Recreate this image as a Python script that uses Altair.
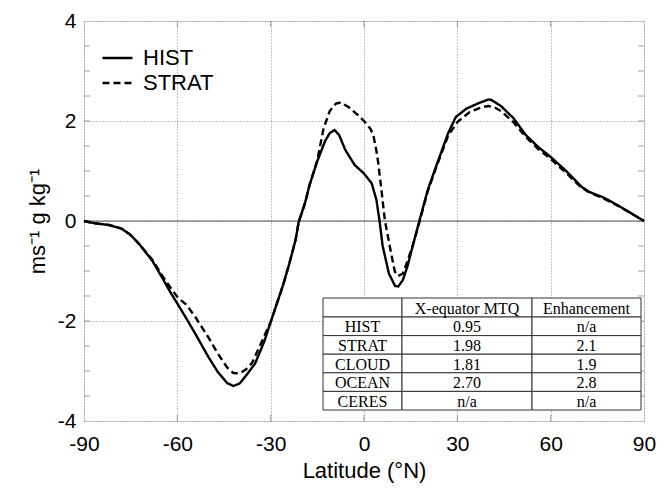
import altair as alt
import pandas as pd

# ---------------- data ----------------
hist_lat = [-90, -87, -82, -78, -75, -72, -68, -65, -62, -60, -57, -54, -50, -47, -44, -42, -40, -38, -35,
            -32, -30, -28, -26, -24, -22, -21, -19, -17.5, -15, -12.5, -11, -9.5, -8, -6, -3, 0, 2.5, 4, 5,
            6, 8, 10, 11, 12.5, 14, 16, 18, 20.5, 23.5, 27, 29.5, 33, 37, 40, 41, 44, 48, 52, 56, 60, 65, 70,
            72.5, 77, 82, 86, 90]
hist_val = [0, -0.04, -0.08, -0.15, -0.28, -0.48, -0.80, -1.12, -1.45, -1.65, -1.96, -2.28, -2.72, -3.02,
            -3.24, -3.30, -3.25, -3.10, -2.85, -2.40, -2.02, -1.65, -1.28, -0.85, -0.38, -0.02, 0.35, 0.72,
            1.20, 1.60, 1.76, 1.82, 1.72, 1.42, 1.12, 0.95, 0.75, 0.42, 0.0, -0.50, -1.05, -1.30, -1.31,
            -1.18, -0.90, -0.42, 0.05, 0.62, 1.15, 1.75, 2.08, 2.25, 2.36, 2.43, 2.42, 2.30, 2.06, 1.72,
            1.48, 1.28, 1.00, 0.68, 0.58, 0.47, 0.30, 0.15, 0.0]

strat_lat = [-90, -87, -82, -78, -75, -72, -68, -65, -62, -60, -57, -54, -50, -47, -44, -42, -40, -38, -36,
             -33.5, -30, -28, -26, -24, -22, -21, -19, -17.5, -15, -13, -11, -9, -7.5, -5, -2, 0, 2, 3, 4,
             4.6, 5.6, 6.7, 8.3, 9.9, 11, 12.5, 14, 16, 18, 20.5, 23.5, 27, 30, 34, 38, 40, 42, 44, 48, 52,
             56, 60, 65, 70, 72.5, 77, 82, 86, 90]
strat_val = [0, -0.04, -0.08, -0.15, -0.28, -0.48, -0.78, -1.08, -1.35, -1.52, -1.68, -1.94, -2.33, -2.65,
             -2.93, -3.04, -3.05, -2.97, -2.84, -2.50, -2.02, -1.65, -1.28, -0.85, -0.38, -0.02, 0.35, 0.72,
             1.22, 1.85, 2.20, 2.35, 2.37, 2.28, 2.12, 2.00, 1.85, 1.72, 1.40, 1.15, 0.62, 0.02, -0.51,
             -1.01, -1.10, -1.05, -0.80, -0.42, 0.02, 0.60, 1.12, 1.70, 1.98, 2.18, 2.28, 2.30, 2.27, 2.20,
             1.98, 1.68, 1.44, 1.24, 0.96, 0.66, 0.57, 0.45, 0.29, 0.15, 0.0]

series_names = ["HIST", "STRAT"]

x_ticks = [-90, -60, -30, 0, 30, 60, 90]
x_inner_ticks = [-60, -30, 0, 30, 60]
y_ticks = [-4, -2, 0, 2, 4]
y_minor_ticks = [-3.5, -3, -2.5, -2, -1.5, -1, -0.5, 0, 0.5, 1, 1.5, 2, 2.5, 3, 3.5]

table_header = ["", "X-equator MTQ", "Enhancement"]
table_rows = ["HIST", "STRAT", "CLOUD", "OCEAN", "CERES"]
table_mtq = ["0.95", "1.98", "1.81", "2.70", "n/a"]
table_enh = ["n/a", "2.1", "1.9", "2.8", "n/a"]

# ---------------- layout (styles) ----------------
W, H = 560, 400
col_edges = [0, 79, 209, 318]          # table column edges, table units (px)
row_edges = [0, 19, 37.6, 56.2, 74.8, 93.4, 112]
TABLE_X_RANGE = [239, 557]
TABLE_Y_RANGE = [277, 389]
SANS = "Liberation Sans"
SERIF = "Liberation Serif"

# ---------------- frames ----------------
lines_df = pd.concat([
    pd.DataFrame({"lat": hist_lat, "val": hist_val, "series": "HIST"}),
    pd.DataFrame({"lat": strat_lat, "val": strat_val, "series": "STRAT"}),
])

cells = []
all_rows = [table_header] + [[r, m, e] for r, m, e in zip(table_rows, table_mtq, table_enh)]
for ri, row in enumerate(all_rows):
    for ci, txt in enumerate(row):
        cells.append({
            "x": col_edges[ci], "x2": col_edges[ci + 1],
            "y": row_edges[ri], "y2": row_edges[ri + 1],
            "xc": (col_edges[ci] + col_edges[ci + 1]) / 2,
            "yc": (row_edges[ri] + row_edges[ri + 1]) / 2,
            "text": txt,
        })
cells_df = pd.DataFrame(cells)

xscale = alt.Scale(domain=[-90, 90], nice=False, zero=False)
yscale = alt.Scale(domain=[-4, 4], nice=False, zero=False)

lines = alt.Chart(lines_df).mark_line(color="black", strokeWidth=2.4).encode(
    x=alt.X("lat:Q", scale=xscale,
            axis=alt.Axis(values=x_ticks, title="Latitude (°N)", labelFontSize=21, titleFontSize=22,
                          labelFont=SANS, titleFont=SANS, labelColor="black", titleColor="black",
                          titleFontWeight="normal", labelPadding=12, titlePadding=6, ticks=False,
                          domain=False, labelFlush=False, grid=True, gridDash=[1, 2],
                          gridColor="#888", gridWidth=1, labelExpr="toString(datum.value)")),
    y=alt.Y("val:Q", scale=yscale,
            axis=alt.Axis(values=y_ticks, title="ms⁻¹ g kg⁻¹", labelFontSize=21, titleFontSize=22,
                          labelFont=SANS, titleFont=SANS, labelColor="black", titleColor="black",
                          titleFontWeight="normal", labelPadding=8, titlePadding=8, ticks=False,
                          domain=False, labelFlush=False, grid=True, gridDash=[1, 2],
                          gridColor="#888", gridWidth=1, labelExpr="toString(datum.value)")),
    strokeDash=alt.StrokeDash("series:N", scale=alt.Scale(domain=series_names, range=[[1, 0], [7, 4]]),
                              legend=alt.Legend(title=None, orient="none", legendX=17, legendY=25,
                                                symbolType="stroke", symbolSize=900,
                                                symbolStrokeWidth=2.4, symbolStrokeColor="black",
                                                labelFontSize=22, labelFont=SANS, labelColor="black",
                                                labelOffset=9, clipHeight=24, rowPadding=1, padding=0)),
    order="lat:Q",
)

zero_df = pd.DataFrame({"val": [0]})
zero = alt.Chart(zero_df).mark_rule(color="#555", strokeWidth=1).encode(y=alt.Y("val:Q", scale=yscale))

yt_df = pd.DataFrame({"val": y_minor_ticks})
ytick_l = alt.Chart(yt_df).mark_tick(color="#777", thickness=1, size=6).encode(
    y=alt.Y("val:Q", scale=yscale), x=alt.value(3))
ytick_r = alt.Chart(yt_df).mark_tick(color="#777", thickness=1, size=6).encode(
    y=alt.Y("val:Q", scale=yscale), x=alt.value(W - 3))
xt_df = pd.DataFrame({"lat": x_inner_ticks})
xtick_b = alt.Chart(xt_df).mark_tick(color="#777", thickness=1, size=6).encode(
    x=alt.X("lat:Q", scale=xscale), y=alt.value(H - 3))
xtick_t = alt.Chart(xt_df).mark_tick(color="#777", thickness=1, size=6).encode(
    x=alt.X("lat:Q", scale=xscale), y=alt.value(3))

main = alt.layer(zero, ytick_l, ytick_r, xtick_b, xtick_t, lines)

tx = alt.Scale(domain=[0, 318], range=TABLE_X_RANGE, nice=False, zero=False)
ty = alt.Scale(domain=[0, 112], range=TABLE_Y_RANGE, nice=False, zero=False)
rects = alt.Chart(cells_df).mark_rect(fill="white", stroke="#333", strokeWidth=1).encode(
    x=alt.X("x:Q", scale=tx, axis=None), x2="x2:Q",
    y=alt.Y("y:Q", scale=ty, axis=None), y2="y2:Q",
)
texts = alt.Chart(cells_df).mark_text(font=SERIF, fontSize=16, color="black", baseline="middle",
                                      align="center", dy=1).encode(
    x=alt.X("xc:Q", scale=tx, axis=None),
    y=alt.Y("yc:Q", scale=ty, axis=None),
    text="text:N",
)
table = alt.layer(rects, texts)

chart = alt.layer(main, table).resolve_scale(x="independent", y="independent").properties(
    width=W, height=H, autosize=alt.AutoSizeParams(type="none"),
    padding={"left": 76, "top": 13, "right": 16, "bottom": 62},
).configure_view(stroke="#888", strokeWidth=1).configure(background="white")

chart.save("out.html", embed_options={"renderer": "svg", "actions": False})
